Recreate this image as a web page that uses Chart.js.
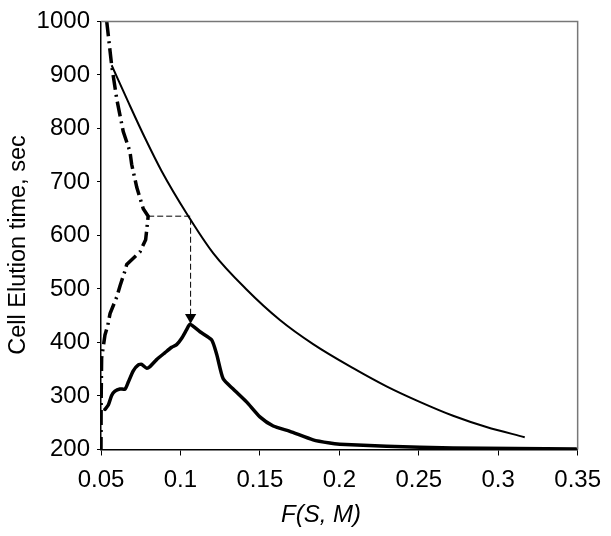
<!DOCTYPE html>
<html lang="en">
<head>
  <meta charset="UTF-8">
  <title>Cell elution time vs F(S, M)</title>
  <script src="https://cdn.jsdelivr.net/npm/chart.js"></script>
  <style>
    body { margin: 0; background: #fff; }
    #wrap { width: 611px; height: 536px; }
  </style>
</head>
<body>
  <div id="wrap"><canvas id="chart" width="611" height="536"></canvas></div>
  <script>
    // thin solid curve
    const thinX = [0.0567, 0.0672, 0.0777, 0.0882, 0.1039, 0.1206, 0.1416, 0.1626, 0.1835,
                   0.2087, 0.2297, 0.2506, 0.2716, 0.2926, 0.3167];
    const thinY = [918, 849, 782, 720, 641, 567, 499, 442, 397,
                   352, 318, 289, 263, 242, 223];

    // thick dash-dot curve
    const dashDotX = [0.0536, 0.0567, 0.0599, 0.0640, 0.0682, 0.0693, 0.0725, 0.0766, 0.0797, 0.0781, 0.0745,
                      0.0662, 0.0651, 0.0620, 0.0599, 0.0557, 0.0542, 0.0525, 0.0504, 0.0501, 0.0500];
    const dashDotY = [1000, 918, 855, 794, 757, 733, 690, 650, 636, 592, 569,
                      546, 534, 506, 485, 454, 431, 414, 371, 292, 200];

    // thick solid curve
    const thickX = [0.0525, 0.0546, 0.0567, 0.0588, 0.0619, 0.0651, 0.0672, 0.0703, 0.0735, 0.0756, 0.0787,
                    0.0808, 0.0850, 0.0903, 0.0945, 0.0976, 0.1008, 0.1039, 0.1060, 0.1123, 0.1196, 0.1228,
                    0.1269, 0.1332, 0.1416, 0.1500, 0.1584, 0.1689, 0.1835, 0.1940, 0.2003, 0.2297, 0.2716, 0.3490];
    const thickY = [275, 283, 301, 309, 313, 313, 326, 347, 358, 359, 352,
                    355, 368, 381, 391, 396, 408, 424, 434, 420, 405, 378,
                    332, 313, 289, 261, 244, 234, 218, 212, 210, 206, 203, 201];

    // dashed arrow
    const arrowX = [0.0797, 0.1064, 0.1064];
    const arrowY = [636, 636, 447];

    const xTicks = [0.05, 0.1, 0.15, 0.2, 0.25, 0.3, 0.35];
    const yTicks = [200, 300, 400, 500, 600, 700, 800, 900, 1000];

    const xTitle = 'F(S, M)';
    const yTitle = 'Cell Elution time, sec';

    function pts(xs, ys) {
      return xs.map((x, i) => ({ x: x, y: ys[i] }));
    }

    const family = "'Liberation Sans', Arial, sans-serif";

    // grey frame on top and right + axis titles
    const framePlugin = {
      id: 'frame',
      afterDraw(chart) {
        const a = chart.chartArea;
        const ctx = chart.ctx;
        ctx.save();
        ctx.strokeStyle = '#777';
        ctx.lineWidth = 1.5;
        ctx.beginPath();
        ctx.moveTo(a.left, a.top);
        ctx.lineTo(a.right, a.top);
        ctx.lineTo(a.right, a.bottom);
        ctx.stroke();

        ctx.fillStyle = '#000';
        ctx.textAlign = 'center';
        ctx.textBaseline = 'middle';
        ctx.font = 'italic 24px ' + family;
        ctx.fillText(xTitle, 321, 515);

        ctx.translate(19, 245);
        ctx.rotate(-Math.PI / 2);
        ctx.font = '23.5px ' + family;
        ctx.fillText(yTitle, 0, 0);
        ctx.restore();
      }
    };

    const font = { family: family, size: 24 };

    new Chart(document.getElementById('chart'), {
      type: 'scatter',
      data: {
        datasets: [
          {
            data: pts(arrowX, arrowY),
            showLine: true,
            borderColor: '#000',
            borderWidth: 1,
            borderDash: [6, 3],
            pointRadius: [0, 0, 6.5],
            pointStyle: 'triangle',
            rotation: 180,
            pointBackgroundColor: '#000',
            pointBorderColor: '#000',
            pointBorderWidth: 0
          },
          {
            data: pts(thinX, thinY),
            showLine: true,
            borderColor: '#000',
            borderWidth: 2,
            cubicInterpolationMode: 'monotone',
            pointRadius: 0
          },
          {
            data: pts(thickX, thickY),
            showLine: true,
            borderColor: '#000',
            borderWidth: 3.5,
            tension: 0.2,
            borderJoinStyle: 'round',
            borderCapStyle: 'round',
            pointRadius: 0
          },
          {
            data: pts(dashDotX, dashDotY),
            showLine: true,
            borderColor: '#000',
            borderWidth: 3.5,
            borderDash: [15, 5, 2, 5],
            pointRadius: 0
          }
        ]
      },
      options: {
        responsive: false,
        animation: false,
        layout: { padding: { left: 7, right: 33, top: 14.5, bottom: 10 } },
        plugins: {
          legend: { display: false },
          tooltip: { enabled: false }
        },
        scales: {
          x: {
            type: 'linear',
            min: 0.05,
            max: 0.35,
            afterBuildTicks: s => { s.ticks = xTicks.map(v => ({ value: v })); },
            afterFit: s => { s.height = 76.5; },
            ticks: {
              color: '#000',
              font: font,
              padding: 10,
              maxRotation: 0,
              callback: v => String(v)
            },
            grid: { display: true, drawOnChartArea: false, drawTicks: true, tickLength: 6, color: '#000', lineWidth: 1 },
            border: { display: true, color: '#000', width: 1.5 }
          },
          y: {
            type: 'linear',
            min: 200,
            max: 1000,
            afterBuildTicks: s => { s.ticks = yTicks.map(v => ({ value: v })); },
            afterFit: s => { s.width = 94; },
            ticks: {
              color: '#000',
              font: font,
              padding: 7,
              callback: v => String(v)
            },
            grid: { display: true, drawOnChartArea: false, drawTicks: true, tickLength: 4, color: '#000', lineWidth: 1 },
            border: { display: true, color: '#000', width: 1.5 }
          }
        }
      },
      plugins: [framePlugin]
    });
  </script>
</body>
</html>
